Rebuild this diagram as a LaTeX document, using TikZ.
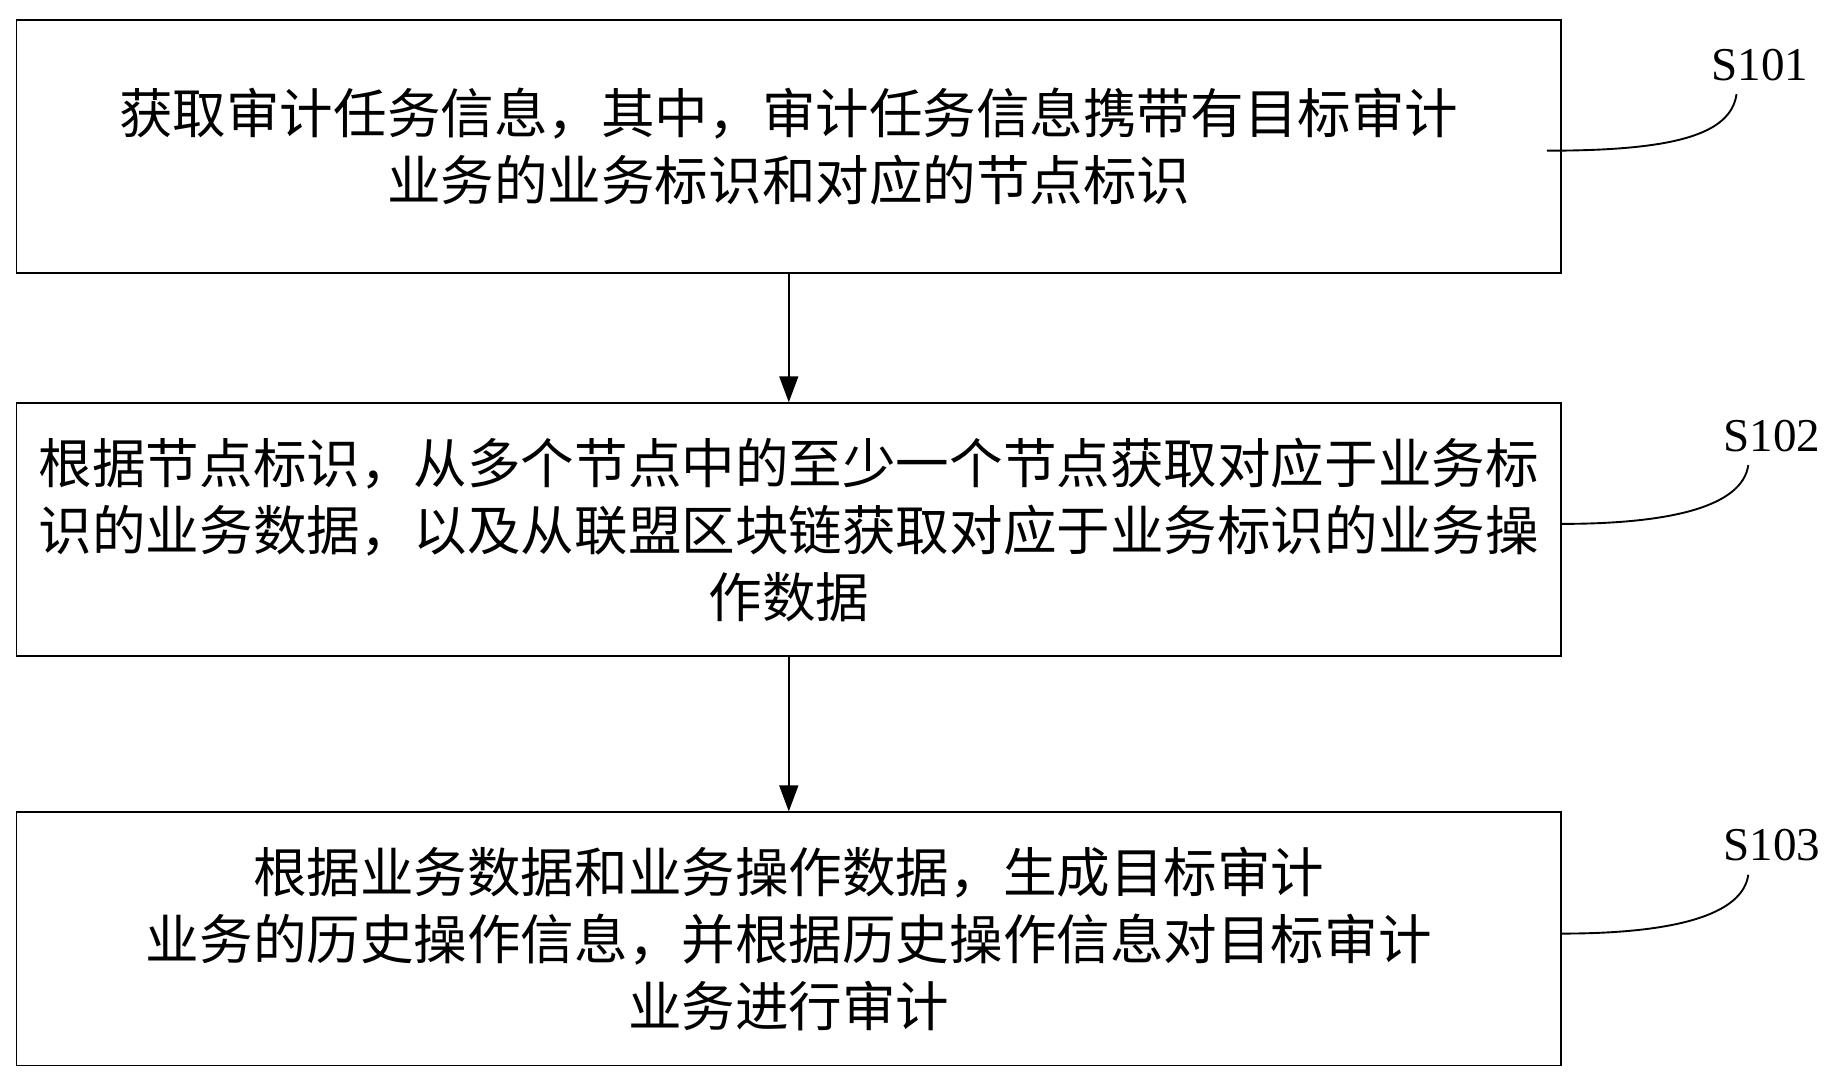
\documentclass[tikz,border=0pt]{standalone}
\usepackage{fontspec}
\setmainfont{Liberation Serif}
\newfontfamily\cjk{Noto Sans CJK SC}
\usetikzlibrary{arrows.meta}
\begin{document}
\begin{tikzpicture}[x=1pt,y=-1pt,
  box/.style={draw,line width=1.6pt,minimum width=1312pt,minimum height=215pt,inner sep=0pt,align=center,font=\cjk\fontsize{45.5}{57}\selectfont},
  lab/.style={font=\fontsize{40}{40}\selectfont},
  arr/.style={line width=1.6pt,-{Triangle[length=22pt,width=16pt]}},
  crv/.style={line width=1.6pt}]
\useasboundingbox (0,0) rectangle (1568,925);
\node[box] (b1) at (670,124.5) {获取审计任务信息，其中，审计任务信息携带有目标审计\\业务的业务标识和对应的节点标识};
\node[box] (b2) at (670,450) {根据节点标识，从多个节点中的至少一个节点获取对应于业务标\\识的业务数据，以及从联盟区块链获取对应于业务标识的业务操\\作数据};
\node[box] (b3) at (670,797.5) {根据业务数据和业务操作数据，生成目标审计\\业务的历史操作信息，并根据历史操作信息对目标审计\\业务进行审计};
\draw[arr] (b1) -- (b2);
\draw[arr] (b2) -- (b3);
\node[lab] (s1) at (1495,55) {S101};
\node[lab] (s2) at (1505,370) {S102};
\node[lab] (s3) at (1505,718) {S103};
\coordinate (c1) at (1314,128);
\coordinate (c2) at (1326,445);
\coordinate (c3) at (1326,793);
\draw[crv] (c1) .. controls (1420,128) and (1470,115) .. (1475,80);
\draw[crv] (c2) .. controls (1420,445) and (1480,430) .. (1485,395);
\draw[crv] (c3) .. controls (1420,793) and (1480,778) .. (1485,743);
\end{tikzpicture}
\end{document}
